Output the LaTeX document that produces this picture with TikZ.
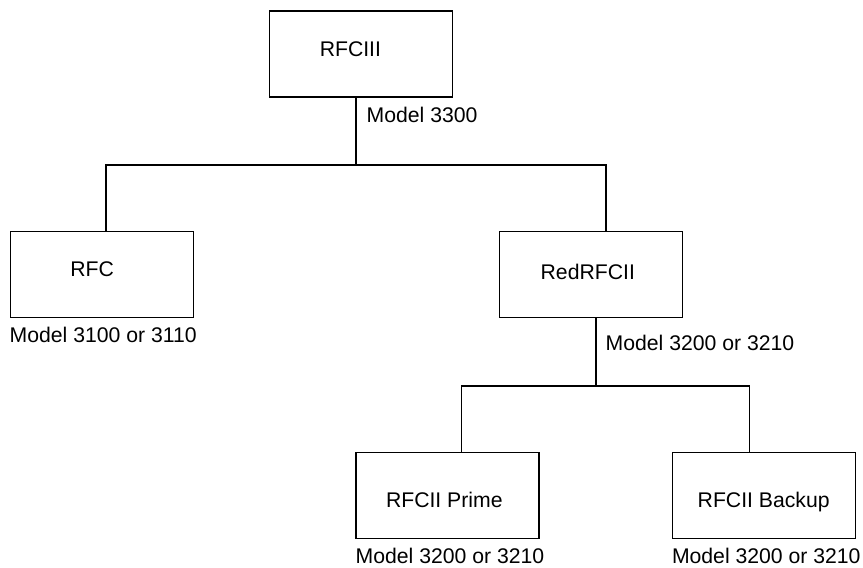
\documentclass[tikz,border=0pt]{standalone}
\usepackage{fontspec}
\setmainfont{Liberation Sans}
\begin{document}
\begin{tikzpicture}[x=1pt,y=-1pt,
  every node/.style={font=\fontsize{21.2}{25}\selectfont},
  box/.style={draw, line width=1.1pt, minimum width=183pt, minimum height=86pt, inner sep=0pt},
  lbl/.style={inner sep=0pt},
  model/.style={inner sep=0pt, anchor=base west},
  conn/.style={line width=1.1pt}]
\useasboundingbox (0,0) rectangle (863,568);
% boxes
\node[box, label={[lbl,xshift=-10.6pt,yshift=4.8pt]center:RFCIII}] (top) at (361,54) {};
\node[box, label={[lbl,xshift=-9.8pt,yshift=5.2pt]center:RFC}] (rfc) at (102,274.2) {};
\node[box, label={[lbl,xshift=-3.5pt,yshift=2.9pt]center:RedRFCII}] (red) at (591.3,274.5) {};
\node[box, label={[lbl,xshift=-3.2pt,yshift=-4.8pt]center:RFCII Prime}] (prime) at (447.5,495.5) {};
\node[box, label={[lbl,xshift=0pt,yshift=-7pt]center:RFCII Backup}] (backup) at (763.7,495.5) {};
% model labels
\node[model] (m1) at (366.5,122) {Model 3300};
\node[model] (m2) at (9.5,342) {Model 3100 or 3110};
\node[model] (m3) at (605.5,350) {Model 3200 or 3210};
\node[model] (m4) at (355.5,563.3) {Model 3200 or 3210};
\node[model] (m5) at (671.8,563.3) {Model 3200 or 3210};
% connectors
\coordinate (b1) at (356,165);
\coordinate (b2) at (596,386);
\draw[conn] ([xshift=-5pt]top.south) -- (b1);
\draw[conn] ([xshift=4pt]rfc.north) |- (b1) -| ([xshift=14.7pt]red.north);
\draw[conn] ([xshift=4.7pt]red.south) -- (b2);
\draw[conn] ([xshift=14.2pt]prime.north) |- (b2) -| ([xshift=-14.4pt]backup.north);
\end{tikzpicture}
\end{document}
